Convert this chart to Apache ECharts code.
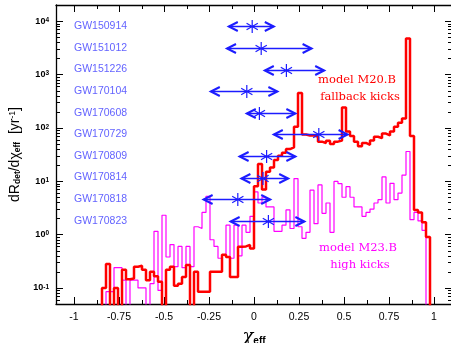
<!DOCTYPE html>
<html>
<head>
<meta charset="utf-8">
<script src="https://cdn.jsdelivr.net/npm/echarts@6/dist/echarts.min.js"></script>
<style>
  html, body { margin: 0; padding: 0; background: #fff; }
  #chart { width: 451px; height: 343px; }
</style>
</head>
<body>
<div id="chart"></div>
<script>
// 90 bins of chi_eff between -1 and 1, rate per bin [yr^-1] (0 = empty bin)
const binCount = 90;
const m20bRates = [
  0, 0, 0, 0, 0, 0, 0, 0.1, 0.28, 0,
  0.1, 0, 0.22, 0.146, 0.15, 0.25, 0.26, 0.22, 0.14, 0.2,
  0.165, 0.13, 0, 0.22, 0.25, 0.11, 0.12, 0.16, 0.27, 0,
  0.2, 0.085, 0.085, 0.085, 0.2, 0.2, 0.2, 0.42, 0.38, 0.16,
  0.16, 0.59, 0.6, 0.64, 0.55, 8, 21, 7, 15, 18,
  25, 30, 34, 40, 43, 105, 450, 75, 72, 72,
  68, 55, 52, 57, 50, 55, 58, 240, 85, 70,
  55, 45, 52, 48, 58, 68, 64, 78, 72, 85,
  105, 125, 150, 4700, 70, 2.9, 2.6, 1.7, 0.9, 0
];
const m23bRates = [
  0, 0, 0, 0, 0, 0, 0, 0, 0.085, 0.085,
  0.24, 0.24, 0.14, 0, 0.14, 0.14, 0.1, 0.1, 0, 0.12,
  1.15, 0.09, 2.3, 0.38, 0.65, 0.25, 0.6, 0.24, 0.6, 0.25,
  1.4, 1.3, 2.6, 5.2, 0.8, 0.6, 0.36, 0.42, 1.5, 0.36,
  1.5, 0.4, 1.5, 1.1, 2.2, 6.3, 3.9, 5, 3.3, 3.3,
  1.15, 1.15, 1.5, 2.9, 1.3, 11.2, 1.4, 0.85, 1.1, 6.8,
  1.6, 8.5, 2.5, 3.9, 1.1, 9.9, 9, 5, 7.9, 5,
  3.3, 3.3, 2.2, 2.6, 3, 3.9, 4.5, 12, 3.9, 9.1,
  4.5, 6, 13, 36, 1.9, 2.6, 1.8, 1.2, 0, 0
];

// LIGO/Virgo events: chi_eff with its range
const eventNames = ['GW150914', 'GW151012', 'GW151226', 'GW170104', 'GW170608',
  'GW170729', 'GW170809', 'GW170814', 'GW170818', 'GW170823'];
const eventChi  = [-0.01, 0.04, 0.18, -0.04, 0.03, 0.36, 0.07, 0.05, -0.09, 0.08];
const eventLow  = [-0.14, -0.15, 0.06, -0.24, -0.04, 0.11, -0.08, -0.07, -0.28, -0.13];
const eventHigh = [0.11, 0.32, 0.39, 0.13, 0.23, 0.52, 0.23, 0.19, 0.09, 0.28];

// ticks
const xLabelTicks = [-1, -0.75, -0.5, -0.25, 0, 0.25, 0.5, 0.75, 1];
const xMinorTicks = [-0.875, -0.625, -0.375, -0.125, 0.125, 0.375, 0.625, 0.875];
const yDecades = [0.01, 0.1, 1, 10, 100, 1000, 10000];
const yMinorSteps = [2, 3, 4, 5, 6, 7, 8, 9];

const red = '#ff0000';
const magenta = '#ff00ff';
const blue = '#1c1cff';
const labelBlue = '#3a3aff';

const yMin = 0.05, yMax = 20000;
const emptyBin = 1e-3; // below the frame, gets clipped

const binEdges = [];
for (let j = 0; j <= binCount; j++) binEdges.push(-1 + j * 2 / binCount);

const stepData = (rates) => {
  const pts = rates.map((v, j) => [binEdges[j], v > 0 ? v : emptyBin]);
  pts.push([binEdges[binCount], emptyBin]);
  return pts;
};

const yMinorTicks = [];
yDecades.forEach((d) => {
  yMinorSteps.forEach((s) => {
    const v = d * s;
    if (v > yMin && v < yMax) yMinorTicks.push(v);
  });
});

const chart = echarts.init(document.getElementById('chart'), null, { renderer: 'canvas' });

const renderEvent = (params, api) => {
  const row = api.value(3);
  const c = api.coord([api.value(0), row]);
  const l = api.coord([api.value(1), row]);
  const h = api.coord([api.value(2), row]);
  const y = Math.round(c[1]) + 0.5;
  const head = 9, half = 4.5, r = 6.5;
  const children = [
    { type: 'line', shape: { x1: l[0], y1: y, x2: h[0], y2: y }, style: { stroke: blue, lineWidth: 1.5 } },
    { type: 'polyline', shape: { points: [[l[0] + head, y - half], [l[0], y], [l[0] + head, y + half]] },
      style: { stroke: blue, lineWidth: 2, fill: null } },
    { type: 'polyline', shape: { points: [[h[0] - head, y - half], [h[0], y], [h[0] - head, y + half]] },
      style: { stroke: blue, lineWidth: 2, fill: null } }
  ];
  [90, 30, 150].forEach((a) => {
    const rad = a * Math.PI / 180;
    const dx = r * Math.cos(rad), dy = r * Math.sin(rad);
    children.push({ type: 'line', shape: { x1: c[0] - dx, y1: y + dy, x2: c[0] + dx, y2: y - dy },
      style: { stroke: blue, lineWidth: 1.2 } });
  });
  return { type: 'group', children };
};

const renderYMinor = (params, api) => {
  const p = api.coord([0, api.value(1)]);
  const rect = params.coordSys;
  const y = Math.round(p[1]) + 0.5;
  return { type: 'group', children: [
    { type: 'line', shape: { x1: rect.x, y1: y, x2: rect.x + 4, y2: y }, style: { stroke: '#000', lineWidth: 1 } },
    { type: 'line', shape: { x1: rect.x + rect.width, y1: y, x2: rect.x + rect.width - 4, y2: y }, style: { stroke: '#000', lineWidth: 1 } }
  ]};
};

const renderXMinor = (params, api) => {
  const p = api.coord([api.value(0), 1]);
  const rect = params.coordSys;
  const x = Math.round(p[0]) + 0.5;
  return { type: 'group', children: [
    { type: 'line', shape: { x1: x, y1: rect.y + rect.height, x2: x, y2: rect.y + rect.height - 4 }, style: { stroke: '#000', lineWidth: 1 } },
    { type: 'line', shape: { x1: x, y1: rect.y, x2: x, y2: rect.y + 4 }, style: { stroke: '#000', lineWidth: 1 } }
  ]};
};

const frameLine = { show: true, onZero: false, lineStyle: { color: '#000', width: 1.3 } };
const tickFont = 'Liberation Sans';

const option = {
  animation: false,
  backgroundColor: '#fff',
  grid: { left: 56, top: 5, width: 396, height: 299, outerBoundsMode: 'none' },
  xAxis: [
    {
      type: 'value', min: -1.1, max: 1.1, position: 'bottom',
      axisLine: frameLine,
      axisTick: { show: true, inside: true, length: 7, customValues: xLabelTicks, lineStyle: { color: '#000', width: 1 } },
      axisLabel: { show: true, customValues: xLabelTicks, color: '#000', fontSize: 10.5, fontFamily: tickFont, margin: 8 },
      splitLine: { show: false },
      name: '{c|χ}{e|eff}',
      nameLocation: 'middle',
      nameGap: 16,
      nameTextStyle: {
        rich: {
          c: { fontSize: 18, fontStyle: 'italic', fontFamily: 'DejaVu Serif', color: '#000' },
          e: { fontSize: 10, fontWeight: 'bold', fontFamily: tickFont, color: '#000', verticalAlign: 'bottom' }
        }
      }
    },
    {
      type: 'value', min: -1.1, max: 1.1, position: 'top',
      axisLine: frameLine,
      axisTick: { show: true, inside: true, length: 7, customValues: xLabelTicks, lineStyle: { color: '#000', width: 1 } },
      axisLabel: { show: false },
      splitLine: { show: false }
    }
  ],
  yAxis: [
    {
      type: 'log', logBase: 10, min: yMin, max: yMax, position: 'left',
      axisLine: frameLine,
      axisTick: { show: true, inside: true, length: 7, lineStyle: { color: '#000', width: 1 } },
      axisLabel: {
        color: '#000', margin: 7,
        formatter: (v) => {
          const lg = Math.log10(v);
          const e = Math.round(lg);
          if (Math.abs(lg - e) > 1e-6) return '';
          return '{a|10}{b|' + e + '}';
        },
        rich: {
          a: { fontSize: 9, fontWeight: 'bold', fontFamily: tickFont, color: '#000' },
          b: { fontSize: 6.5, fontWeight: 'bold', fontFamily: tickFont, color: '#000', verticalAlign: 'top' }
        }
      },
      splitLine: { show: false },
      name: '{t|dR}{s|det}{t|/dχ}{s|eff}{t|  [yr}{p|-1}{t|]}',
      nameLocation: 'middle',
      nameRotate: 90,
      nameGap: 31,
      nameTextStyle: {
        rich: {
          t: { fontSize: 14, fontFamily: tickFont, color: '#000' },
          s: { fontSize: 8.5, fontWeight: 'bold', fontFamily: tickFont, color: '#000', verticalAlign: 'bottom' },
          p: { fontSize: 8.5, fontFamily: tickFont, color: '#000', verticalAlign: 'top' }
        }
      }
    },
    {
      type: 'log', logBase: 10, min: yMin, max: yMax, position: 'right',
      axisLine: frameLine,
      axisTick: { show: true, inside: true, length: 7, lineStyle: { color: '#000', width: 1 } },
      axisLabel: { show: false },
      splitLine: { show: false }
    },
    { type: 'value', min: -2.856, max: 10.986, show: false }
  ],
  graphic: [
    { type: 'text', x: 357, y: 80, style: { text: 'model M20.B', fill: red, fontSize: 11.5, fontFamily: 'DejaVu Serif', align: 'center', verticalAlign: 'middle' } },
    { type: 'text', x: 360, y: 97, style: { text: 'fallback kicks', fill: red, fontSize: 11.5, fontFamily: 'DejaVu Serif', align: 'center', verticalAlign: 'middle' } },
    { type: 'text', x: 358, y: 248, style: { text: 'model M23.B', fill: magenta, fontSize: 11.5, fontFamily: 'DejaVu Serif', align: 'center', verticalAlign: 'middle' } },
    { type: 'text', x: 360, y: 265, style: { text: 'high kicks', fill: magenta, fontSize: 11.5, fontFamily: 'DejaVu Serif', align: 'center', verticalAlign: 'middle' } }
  ],
  series: [
    {
      name: 'M23.B', type: 'line', xAxisIndex: 0, yAxisIndex: 0, step: 'end',
      data: stepData(m23bRates), showSymbol: false, clip: true, z: 3,
      lineStyle: { color: magenta, width: 1.2 }
    },
    {
      name: 'M20.B', type: 'line', xAxisIndex: 0, yAxisIndex: 0, step: 'end',
      data: stepData(m20bRates), showSymbol: false, clip: true, z: 4,
      lineStyle: { color: red, width: 2.5 }
    },
    {
      name: 'events', type: 'custom', xAxisIndex: 0, yAxisIndex: 2, z: 6, silent: true,
      renderItem: renderEvent,
      encode: { x: [0, 1, 2], y: 3 },
      data: eventChi.map((c, i) => [c, eventLow[i], eventHigh[i], eventNames.length - i])
    },
    {
      name: 'eventLabels', type: 'scatter', xAxisIndex: 0, yAxisIndex: 2, z: 6, silent: true,
      symbolSize: 0,
      data: eventNames.map((n, i) => ({ name: n, value: [-1, eventNames.length - i] })),
      label: { show: true, position: 'right', distance: 0, formatter: '{b}', color: labelBlue, fontSize: 10.5, fontFamily: tickFont }
    },
    {
      name: 'yMinorTicks', type: 'custom', xAxisIndex: 0, yAxisIndex: 0, z: 1, silent: true,
      renderItem: renderYMinor,
      encode: { x: 0, y: 1 },
      data: yMinorTicks.map((v) => [0, v])
    },
    {
      name: 'xMinorTicks', type: 'custom', xAxisIndex: 0, yAxisIndex: 0, z: 1, silent: true,
      renderItem: renderXMinor,
      encode: { x: 0, y: 1 },
      data: xMinorTicks.map((x) => [x, 1])
    }
  ]
};

chart.setOption(option);
</script>
</body>
</html>
